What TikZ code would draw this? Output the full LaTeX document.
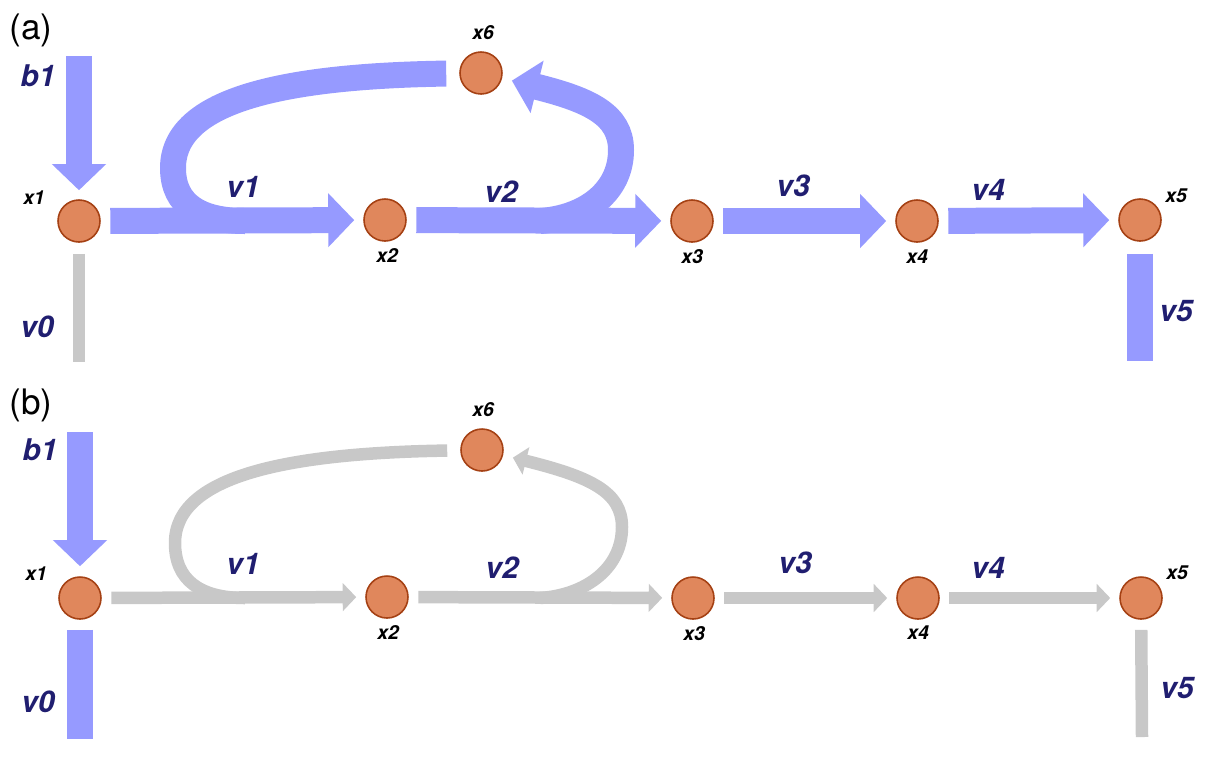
\documentclass[tikz,border=0pt]{standalone}
\usepackage{fontspec}
\setmainfont{TeX Gyre Heros}
\usepackage{tikz}
\usetikzlibrary{arrows.meta,positioning}
\definecolor{FluxBlue}{RGB}{150,154,255}
\definecolor{FluxGray}{RGB}{200,200,200}
\definecolor{NodeOrange}{RGB}{224,135,92}
\definecolor{NodeRim}{RGB}{165,65,20}
\definecolor{FluxNavy}{RGB}{32,30,112}
\tikzset{
  station/.style={circle,minimum size=0.84cm,inner sep=0pt,fill=NodeOrange,draw=NodeRim,line width=0.9pt},
  fluxlabel/.style={text=FluxNavy,font=\fontsize{17}{17}\selectfont\bfseries\itshape},
  statelabel/.style={font=\fontsize{11}{11}\selectfont\bfseries\itshape},
  panellabel/.style={font=\fontsize{20}{20}\selectfont},
  bigflux/.style={line width=0.52cm,draw=FluxBlue,-{Triangle[length=0.52cm,width=1.05cm]}},
  bigbar/.style={line width=0.52cm,draw=FluxBlue},
  thinflux/.style={line width=0.25cm,draw=FluxGray,-{Triangle[length=0.27cm,width=0.55cm]}},
  thinbar/.style={line width=0.25cm,draw=FluxGray},
  gap/.style={shorten <=0.19cm,shorten >=0.18cm}
}
\begin{document}
\begin{tikzpicture}[x=0.02cm,y=-0.02cm]
  \useasboundingbox (0,0) rectangle (1220,769);
  % panel (a)
  \node[panellabel] (alab) at (31,30) {(a)};
  \node[station] (ax1) at (79,221) {};
  \node[station] (ax2) at (385,220) {};
  \node[station] (ax3) at (692,221) {};
  \node[station] (ax4) at (917,221) {};
  \node[station] (ax5) at (1140,220) {};
  \node[station] (ax6) at (481,73) {};
  \coordinate (ain) at (79,56);
  \coordinate (aout0) at (79,362);
  \coordinate (aout5) at (1140,361);
  \coordinate (ajoin) at (245,221);
  \coordinate (asplit) at (540,221);
  \draw[bigbar,shorten <=0.26cm] (ax6) .. controls (290,76) and (173,98) .. (173,168)
    .. controls (173,205) and (200,221) .. (ajoin);
  \draw[bigflux,shorten >=0.2cm] (asplit) .. controls (585,218) and (621,192) .. (621,150)
    .. controls (621,115) and (590,100) .. (ax6);
  \draw[bigflux,shorten >=0.18cm] (ain) -- (ax1);
  \draw[thinbar,shorten <=0.22cm] (ax1) -- (aout0);
  \draw[bigflux,gap] (ax1) -- (ax2);
  \draw[bigflux,gap] (ax2) -- (ax3);
  \draw[bigflux,gap] (ax3) -- (ax4);
  \draw[bigflux,gap] (ax4) -- (ax5);
  \draw[bigbar,shorten <=0.24cm] (ax5) -- (aout5);
  \node[fluxlabel] (ab1) at (38,76) {b1};
  \node[fluxlabel] (av0) at (37,327) {v0};
  \node[fluxlabel] (av1) at (243,187) {v1};
  \node[fluxlabel] (av2) at (501,192) {v2};
  \node[fluxlabel] (av3) at (793,186) {v3};
  \node[fluxlabel] (av4) at (988,190) {v4};
  \node[fluxlabel] (av5) at (1176,311) {v5};
  \node[statelabel] (alx1) at (34,198) {x1};
  \node[statelabel] (alx2) at (387,255) {x2};
  \node[statelabel] (alx3) at (692,257) {x3};
  \node[statelabel] (alx4) at (917,257) {x4};
  \node[statelabel] (alx5) at (1176,196) {x5};
  \node[statelabel] (alx6) at (483,33) {x6};
  % panel (b)
  \node[panellabel] (blab) at (31,405) {(b)};
  \node[station] (bx1) at (80,598) {};
  \node[station] (bx2) at (387,597) {};
  \node[station] (bx3) at (693,598) {};
  \node[station] (bx4) at (918,598) {};
  \node[station] (bx5) at (1141,598) {};
  \node[station] (bx6) at (482,450) {};
  \coordinate (bin) at (80,432);
  \coordinate (bout0) at (80,739);
  \coordinate (bout5) at (1142,737);
  \coordinate (bjoin) at (245,598);
  \coordinate (bsplit) at (540,598);
  \draw[thinbar,shorten <=0.26cm] (bx6) .. controls (290,453) and (175,475) .. (175,543)
    .. controls (175,580) and (200,598) .. (bjoin);
  \draw[thinflux,shorten >=0.2cm] (bsplit) .. controls (585,595) and (622,569) .. (622,527)
    .. controls (622,492) and (591,477) .. (bx6);
  \draw[bigflux,shorten >=0.2cm] (bin) -- (bx1);
  \draw[bigbar,shorten <=0.2cm] (bx1) -- (bout0);
  \draw[thinflux,gap] (bx1) -- (bx2);
  \draw[thinflux,gap] (bx2) -- (bx3);
  \draw[thinflux,gap] (bx3) -- (bx4);
  \draw[thinflux,gap] (bx4) -- (bx5);
  \draw[thinbar,shorten <=0.2cm] (bx5) -- (bout5);
  \node[fluxlabel] (bb1) at (40,450) {b1};
  \node[fluxlabel] (bv0) at (38,702) {v0};
  \node[fluxlabel] (bv1) at (243,564) {v1};
  \node[fluxlabel] (bv2) at (502,568) {v2};
  \node[fluxlabel] (bv3) at (795,563) {v3};
  \node[fluxlabel] (bv4) at (988,568) {v4};
  \node[fluxlabel] (bv5) at (1177,688) {v5};
  \node[statelabel] (blx1) at (36,574) {x1};
  \node[statelabel] (blx2) at (388,632) {x2};
  \node[statelabel] (blx3) at (694,634) {x3};
  \node[statelabel] (blx4) at (918,633) {x4};
  \node[statelabel] (blx5) at (1177,573) {x5};
  \node[statelabel] (blx6) at (483,410) {x6};
\end{tikzpicture}
\end{document}
